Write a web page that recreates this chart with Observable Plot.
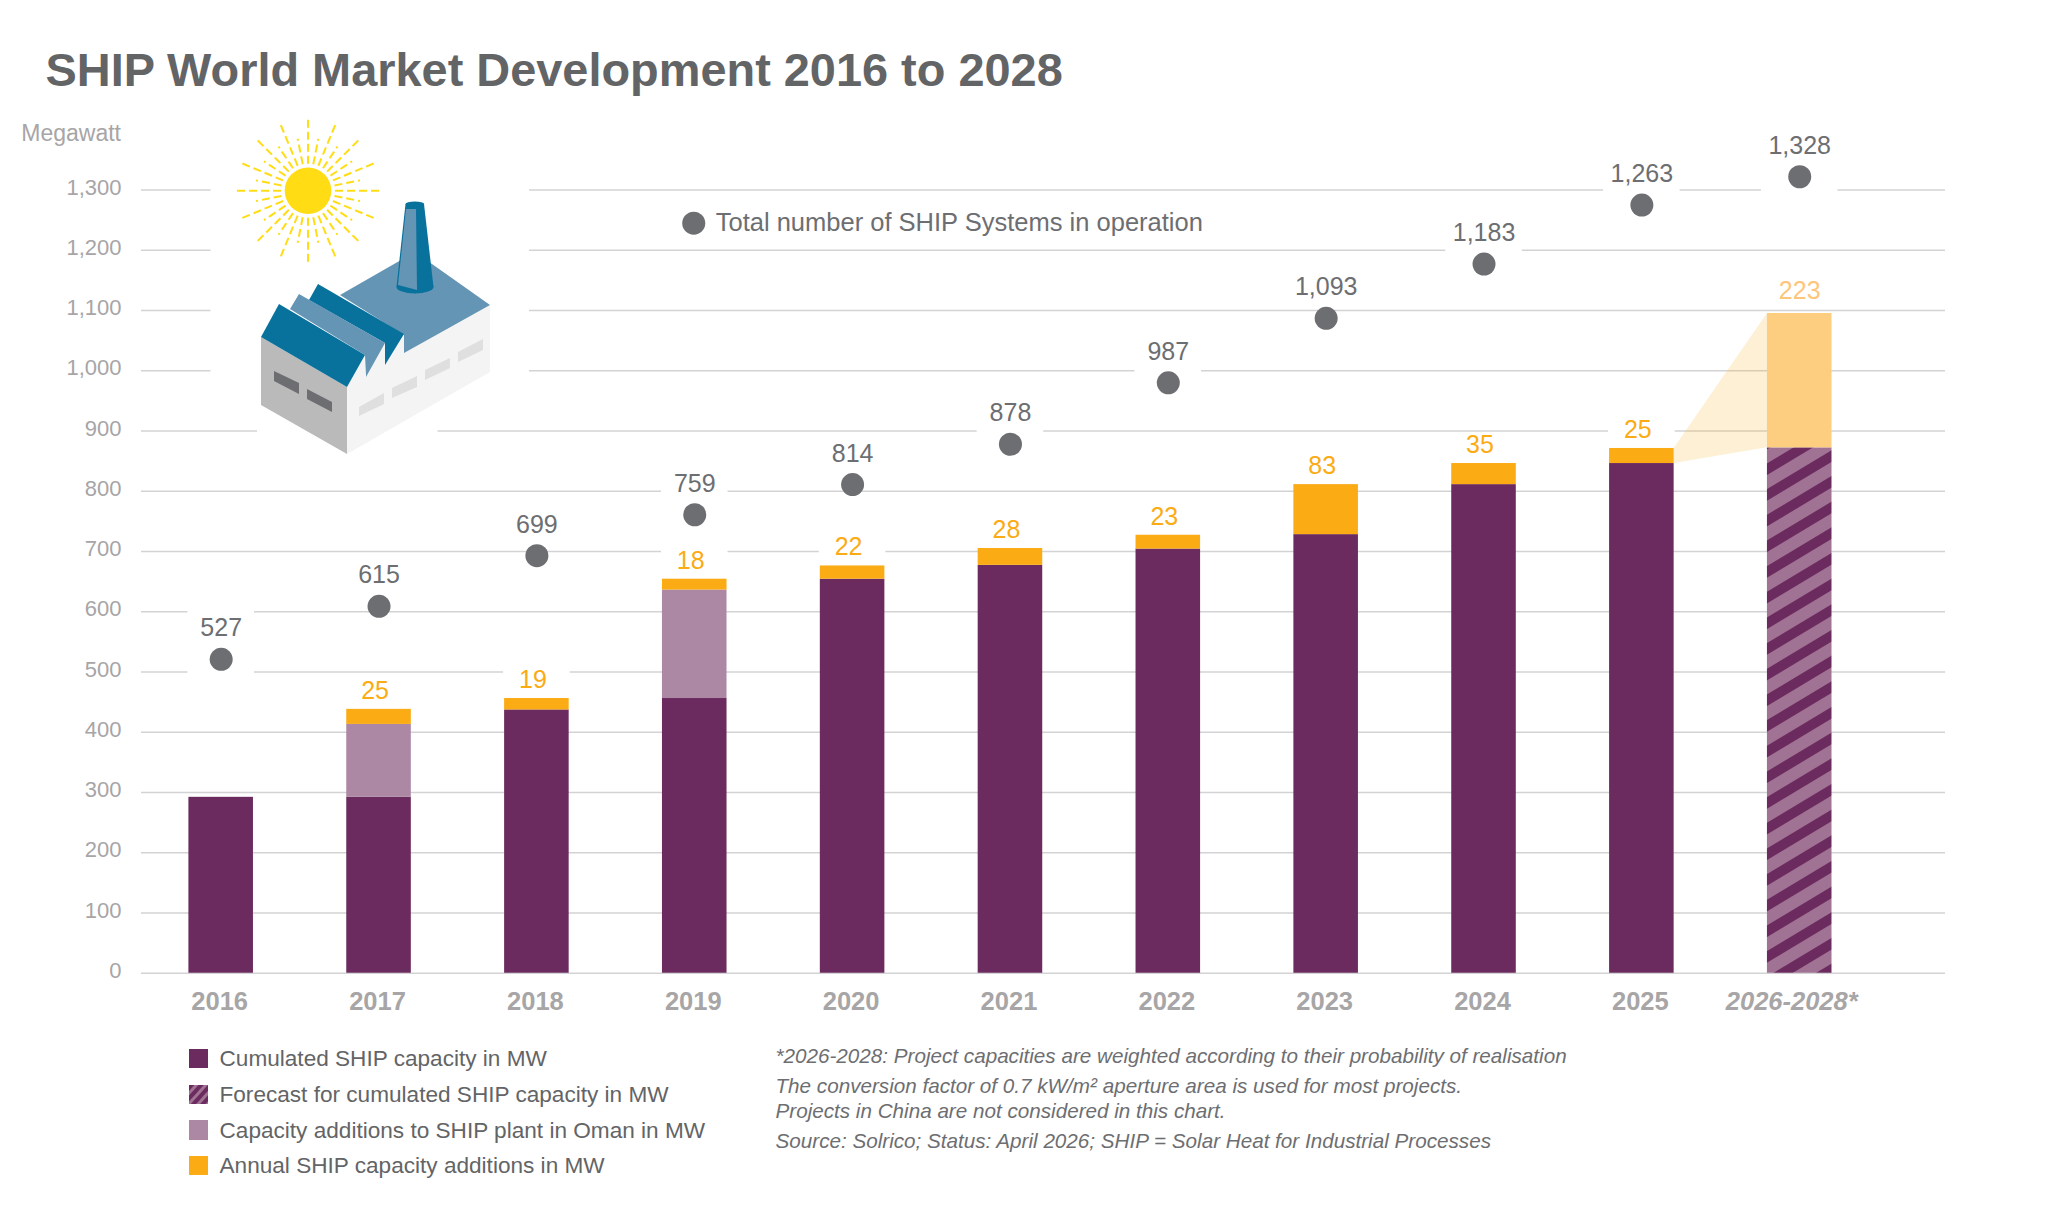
<!DOCTYPE html>
<html><head><meta charset="utf-8">
<script src="https://cdn.jsdelivr.net/npm/d3@7"></script>
<script src="https://cdn.jsdelivr.net/npm/@observablehq/plot@0.6"></script>
<style>
html,body{margin:0;padding:0;background:#fff;width:2048px;height:1229px;overflow:hidden;font-family:"Liberation Sans",Arial,sans-serif}
#head{position:relative;height:110px}
#head h1{position:absolute;left:45.5px;top:42px;margin:0;font-size:46.9px;line-height:56px;font-weight:700;color:#636466;white-space:nowrap}
#chart svg{display:block}
#foot{position:relative;height:189px}
.lg{position:absolute;left:219.5px;font-size:22.6px;line-height:30px;color:#636466;white-space:nowrap}
.sw{position:absolute;left:188.5px;width:19.5px;height:19.5px}
.nt{position:absolute;left:775.5px;font-size:20.67px;line-height:26px;font-style:italic;color:#6d6e71;white-space:nowrap}
</style></head><body>
<div id="head"><h1>SHIP World Market Development 2016 to 2028</h1></div>
<div id="chart"></div>
<div id="foot"></div>
<script>
const categories = ["2016","2017","2018","2019","2020","2021","2022","2023","2024","2025","2026-2028*"];
const cumulated = [292,292,437,456,654,677,704,728,811,846,0];
const forecast  = [0,0,0,0,0,0,0,0,0,0,872];
const oman      = [0,121,0,180,0,0,0,0,0,0,0];
const annual    = [0,25,19,18,22,28,23,83,35,25,0];
const forecastAdditions = [0,0,0,0,0,0,0,0,0,0,223];
const systems   = [527,615,699,759,814,878,987,1093,1183,1263,1328];
const systemsDrawnAt = [521,609,693,761,811,878,980,1087,1177,1275,1322];
const yTicks = [0,100,200,300,400,500,600,700,800,900,1000,1100,1200,1300];
const seriesNames = ["Cumulated","Forecast","Oman","Annual","Forecast additions"];
const seriesColors = ["#6c2b5f","url(#hatch)","#ad88a5","#fbab14","#fdcd80"];
const gridGaps = [
  {cat:"2016",level:500},{cat:"2016",level:600},{cat:"2018",level:500},
  {cat:"2019",level:700},{cat:"2019",level:800},{cat:"2020",level:700},
  {cat:"2021",level:900},{cat:"2022",level:1000},{cat:"2025",level:900}];
const wideGridGaps = [{cat:"2024",level:1200},{cat:"2025",level:1300},{cat:"2026-2028*",level:1300}];
const legendItems = ["Cumulated SHIP capacity in MW","Forecast for cumulated SHIP capacity in MW","Capacity additions to SHIP plant in Oman in MW","Annual SHIP capacity additions in MW"];
const noteLines = ["*2026-2028: Project capacities are weighted according to their probability of realisation","The conversion factor of 0.7 kW/m² aperture area is used for most projects.","Projects in China are not considered in this chart.","Source: Solrico; Status: April 2026; SHIP = Solar Heat for Industrial Processes"];

const rows = categories.flatMap((cat,i)=>[cumulated[i],forecast[i],oman[i],annual[i],forecastAdditions[i]]
  .map((value,s)=>({cat,series:seriesNames[s],value})).filter(d=>d.value>0));
const tops = categories.map((cat,i)=>({cat,top:cumulated[i]+forecast[i]+oman[i]+annual[i],annual:annual[i],fc:forecastAdditions[i]}));
const points = categories.map((cat,i)=>({cat,at:systemsDrawnAt[i],n:systems[i]}));
const GREY="#6d6e71", AXIS="#a7a5a6", GRID="#d3d3d5";
const OFF=110;

function svgEl(parent,name,attrs){const e=document.createElementNS("http://www.w3.org/2000/svg",name);for(const k in attrs)e.setAttribute(k,attrs[k]);parent.appendChild(e);return e;}
function defsMark(){
  const g=document.createElementNS("http://www.w3.org/2000/svg","g");
  const defs=svgEl(g,"defs",{});
  const p=svgEl(defs,"pattern",{id:"hatch",patternUnits:"userSpaceOnUse",width:22,height:22,patternTransform:"rotate(-31)"});
  svgEl(p,"rect",{width:22,height:22,fill:"#a07394"});
  svgEl(p,"rect",{y:3,width:22,height:10,fill:"#6c2b5f"});
  return g;
}
function coverMark(){
  const g=document.createElementNS("http://www.w3.org/2000/svg","g");
  svgEl(g,"rect",{x:210.5,y:180-OFF,width:318.5,height:196,fill:"#fff"});
  svgEl(g,"rect",{x:257,y:424-OFF,width:180.5,height:12,fill:"#fff"});
  return g;
}
function factoryMark(){
  const g=document.createElementNS("http://www.w3.org/2000/svg","g");
  g.setAttribute("transform",`translate(0,${-OFF})`);
  const poly=(pts,fill)=>svgEl(g,"polygon",{points:pts,fill});
  const cx=308,cy=190.7;
  for(let i=0;i<32;i++){
    const a=i*Math.PI/16, r=i%2?53:71;
    svgEl(g,"line",{x1:cx+27*Math.cos(a),y1:cy+27*Math.sin(a),x2:cx+r*Math.cos(a),y2:cy+r*Math.sin(a),stroke:"#ffdd15","stroke-width":2,"stroke-dasharray":"8 4"});
  }
  svgEl(g,"circle",{cx,cy,r:23.3,fill:"#ffdc14"});
  poly("261,337 347,387 347,454 261,405","#bbbaba");
  poly("347,387 365,355 365,377 385,343 385,365 404,335 404,353 490,305 490,372 347,454","#f4f4f5");
  poly("340,295 415,252 490,305 404,353 404,335","#6495b5");
  poly("318,284 404,334 385,365 385,343 309,300","#08719c");
  poly("299,294 385,343 366,377 365,355 290,309","#6495b5");
  poly("279,304 365,355 347,387 261,337","#08719c");
  svgEl(g,"ellipse",{cx:415,cy:287,rx:18.5,ry:6.5,fill:"#08719c"});
  poly("405.5,204 424,204 433.5,287 396.5,287","#08719c");
  svgEl(g,"ellipse",{cx:414.8,cy:204,rx:9.3,ry:2.6,fill:"#08719c"});
  poly("406,209 416,209 417,290 398,285","#6495b5");
  poly("274,371 299,383 299,394 274,381",GREY);
  poly("307,389 332,402 332,412 307,399",GREY);
  poly("359,407 384,393 384,404 359,416","#e0dfdf");
  poly("392,388 417,376 417,387 392,398","#e0dfdf");
  poly("425,370 450,358 450,368 425,380","#e0dfdf");
  poly("458,352 483,339 483,350 458,362","#e0dfdf");
  return g;
}
function connectorMark(index,{x,y}){
  const g=document.createElementNS("http://www.w3.org/2000/svg","g");
  const a="2025", b="2026-2028*", i=categories.indexOf(a), j=categories.indexOf(b);
  const ax=x(a)+x.bandwidth(), bx=x(b);
  const aTop=tops[i].top, aBase=cumulated[i], bBase=tops[j].top, bTop=bBase+forecastAdditions[j];
  svgEl(g,"polygon",{points:[[ax,y(aTop)],[bx,y(bTop)],[bx,y(bBase)],[ax,y(aBase)]].join(" "),fill:"#fbab14","fill-opacity":0.18});
  return g;
}

const chart = Plot.plot({
  width:2048, height:930,
  marginLeft:141, marginRight:103, marginTop:79.5, marginBottom:67.25,
  style:{fontFamily:'"Liberation Sans",Arial,sans-serif',background:"#fff",overflow:"visible"},
  x:{type:"band",domain:categories,range:[188.4,1831.5],paddingInner:0.591,paddingOuter:0,round:false,label:null},
  y:{domain:[0,1300],label:null},
  color:{type:"ordinal",domain:seriesNames,range:seriesColors},
  marks:[
    defsMark,
    Plot.ruleY(yTicks,{stroke:GRID,strokeWidth:1.6}),
    coverMark,
    Plot.tickY(gridGaps,{x:"cat",y:"level",stroke:"#fff",strokeWidth:4,insetLeft:-1,insetRight:-1}),
    Plot.tickY(wideGridGaps,{x:"cat",y:"level",stroke:"#fff",strokeWidth:4,insetLeft:-6,insetRight:-6}),
    connectorMark,
    Plot.barY(rows,Plot.stackY({x:"cat",y:"value",z:"series",fill:"series",order:seriesNames})),
    factoryMark,
    Plot.axisY(yTicks,{anchor:"left",tickSize:0,tickPadding:20,tickFormat:d3.format(","),label:null,fill:AXIS,fontSize:22,dy:-2.5}),
    Plot.axisX(categories.slice(0,10),{anchor:"bottom",tickSize:0,tickPadding:19,label:null,fill:AXIS,fontSize:25.5,fontWeight:"bold",dx:-1.5}),
    Plot.axisX(categories.slice(10),{anchor:"bottom",tickSize:0,tickPadding:19,label:null,fill:AXIS,fontSize:25.5,fontWeight:"bold",fontStyle:"italic",dx:-8}),
    Plot.text(["Megawatt"],{text:d=>d,frameAnchor:"top-left",dx:-20.5,dy:-65.5,textAnchor:"end",fill:AXIS,fontSize:23}),
    Plot.dot(points,{x:"cat",y:"at",r:11.5,fill:GREY}),
    Plot.text(points,{x:"cat",y:"at",text:d=>d3.format(",")(d.n),dy:-31,fill:GREY,fontSize:25}),
    Plot.text(tops.filter(d=>d.annual>0),{x:"cat",y:"top",text:"annual",dy:-18.5,dx:-4,fill:"#fbab14",fontSize:25}),
    Plot.text(tops.filter(d=>d.fc>0),{x:"cat",y:d=>d.top+d.fc,text:"fc",dy:-23,fill:"#fdc67a",fontSize:25}),
    Plot.dot([{cat:"2019",level:1245}],{x:"cat",y:"level",r:11.5,fill:GREY,dx:-1}),
    Plot.text(["Total number of SHIP Systems in operation"],{x:()=> "2019",y:()=>1245,text:d=>d,textAnchor:"start",dx:21,fill:GREY,fontSize:25.5})
  ]
});
document.getElementById("chart").appendChild(chart);

const foot=document.getElementById("foot");
const rowsY=[1059.3,1095.3,1131,1166.3];
const swatchFill=[ "#6c2b5f",null,"#ad88a5","#fbab14"];
legendItems.forEach((t,i)=>{
  const top=rowsY[i]-1040;
  const s=document.createElement("div");s.className="sw";s.style.top=(top-10.75)+"px";
  if(swatchFill[i]) s.style.background=swatchFill[i];
  else s.innerHTML='<svg width="19.5" height="19.5" style="display:block"><defs><pattern id="h2" patternUnits="userSpaceOnUse" width="7" height="7" patternTransform="rotate(-48)"><rect width="7" height="7" fill="#a07394"/><rect y="0" width="7" height="4" fill="#6c2b5f"/></pattern></defs><rect width="19.5" height="19.5" fill="url(#h2)"/></svg>';
  foot.appendChild(s);
  const d=document.createElement("div");d.className="lg";d.style.top=(top-15)+"px";d.textContent=t;foot.appendChild(d);
});
const notesY=[1056,1086,1111,1140.7];
noteLines.forEach((t,i)=>{const d=document.createElement("div");d.className="nt";d.style.top=(notesY[i]-1040-13)+"px";d.textContent=t;foot.appendChild(d);});
</script>
</body></html>
